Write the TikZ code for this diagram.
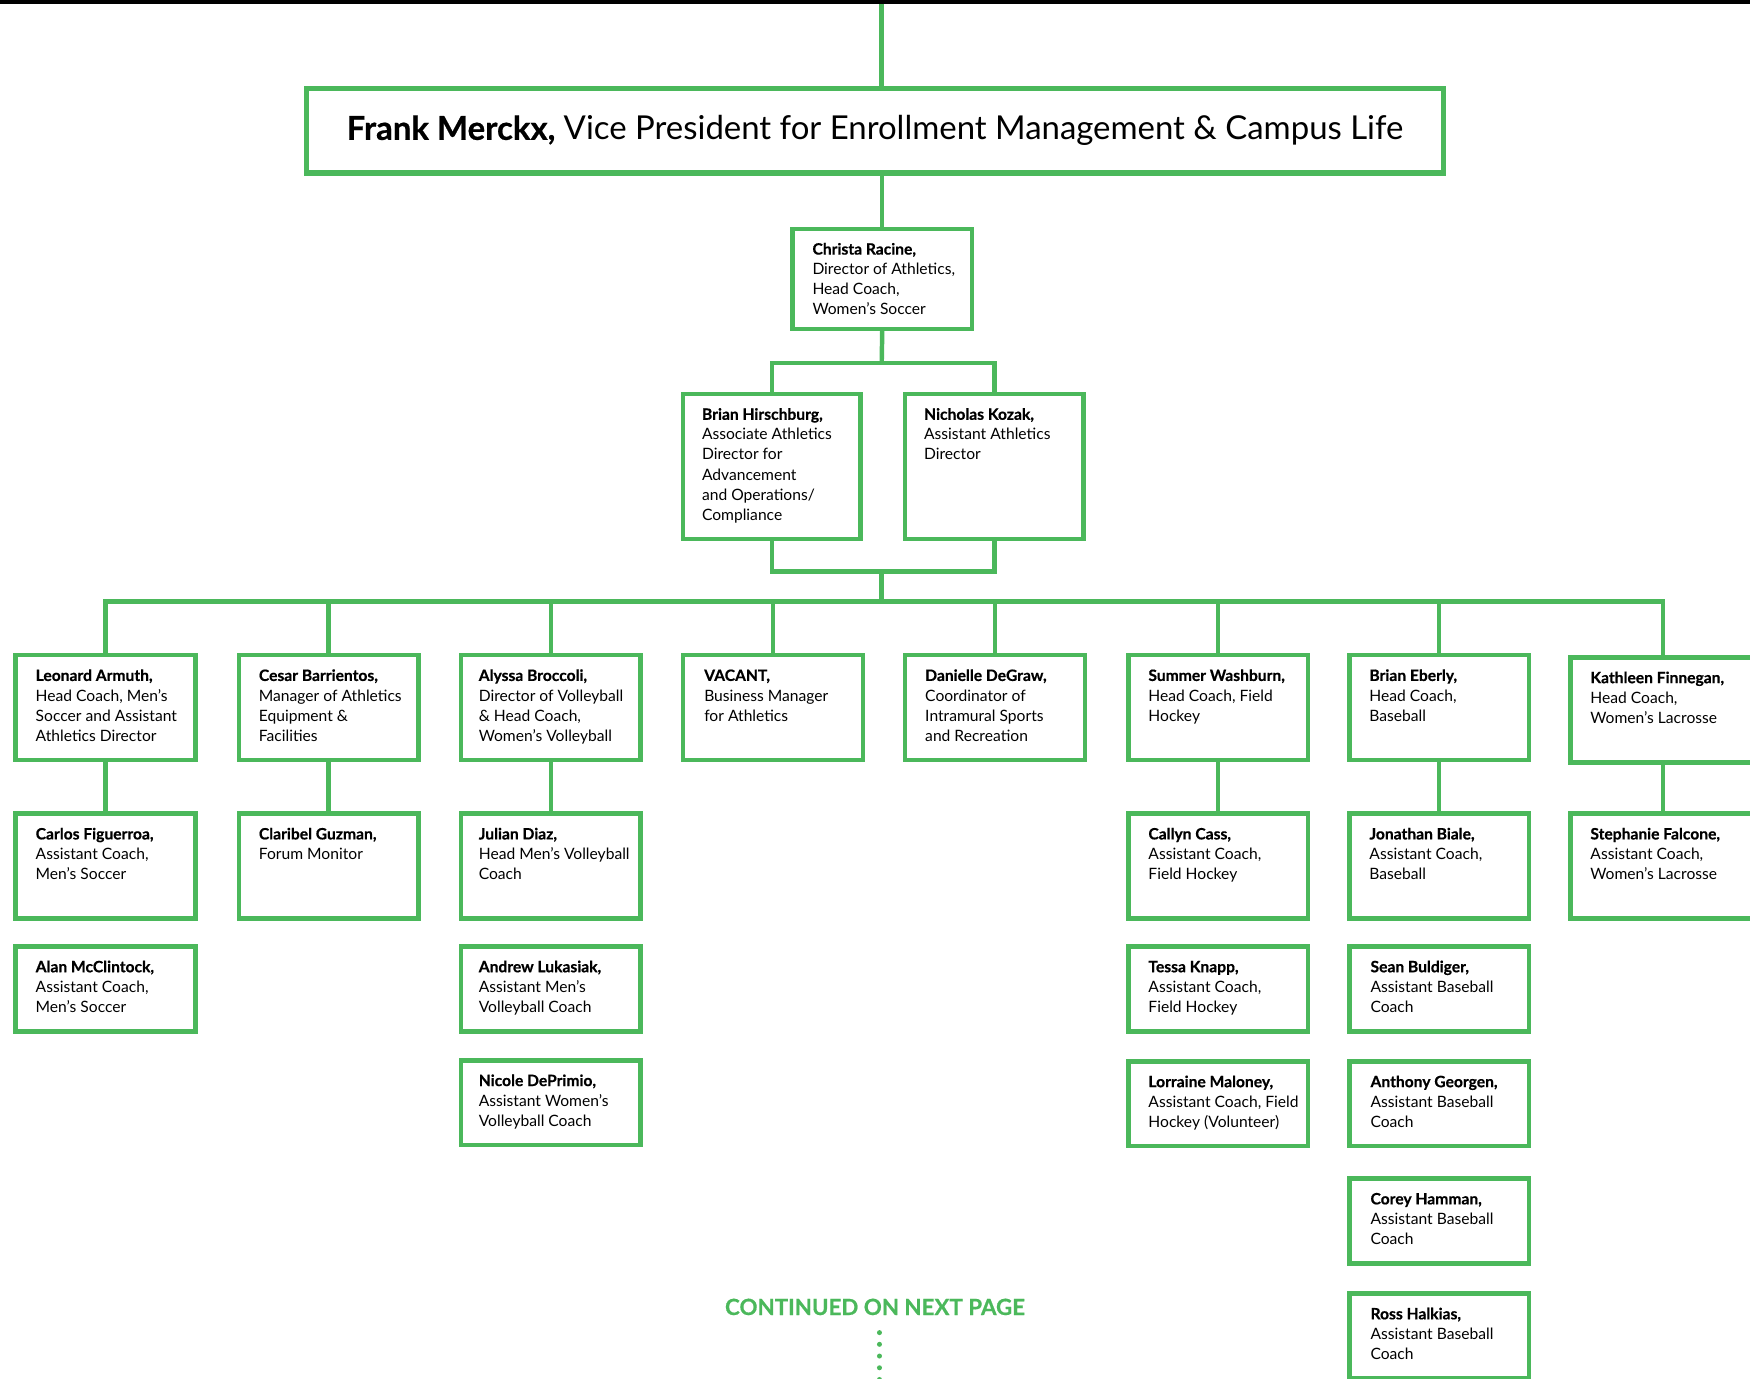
\documentclass[tikz,border=0pt]{standalone}
\usepackage{fontspec}
\setmainfont{Lato}[BoldFeatures={FakeBold=0.6}]
\definecolor{grn}{HTML}{4BB85B}
\newcommand\ctext[5]{\parbox[c][#2pt][t]{#1pt}{\fontsize{14}{18}\selectfont\vspace*{10.5pt}\leftskip=#3pt\rightskip=0pt plus 1fil\parindent=0pt\strut\textbf{#4}\\#5}}
\tikzset{
  card/.style={draw=grn, line width=4pt, anchor=north west, inner sep=0pt, outer sep=0pt},
  conn/.style={draw=grn, line width=4pt},
  dotline/.style={draw=grn, line width=4.5pt, line cap=round, dash pattern=on 0pt off 10.5pt}
}
\begin{document}
\begin{tikzpicture}[x=1pt,y=-1pt]
\useasboundingbox (0,0) rectangle (1568,1235);
\fill[black] (0,0) rectangle (1568,4);
% top
\node[draw=grn, line width=4.5pt, inner sep=0pt, outer sep=0pt, minimum width=1018pt, minimum height=76pt, anchor=north west] (vp) at (275,79)
 {\raisebox{-3.5pt}{\fontsize{29.5}{32}\selectfont\textbf{Frank Merckx,} Vice President for Enrollment Management \& Campus Life}};
\node[card] (chr) at (710,205) {\ctext{161}{90}{18}{Christa Racine,}{Director of Athletics,\\Head Coach,\\Women’s Soccer}};
\node[card] (bh) at (612,353) {\ctext{159}{130}{17}{Brian Hirschburg,}{Associate Athletics\\Director for\\Advancement\\and Operations/\\Compliance}};
\node[card] (nk) at (811,353) {\ctext{160}{130}{17}{Nicholas Kozak,}{Assistant Athletics\\Director}};
% row 1
\node[card] (leo) at (14,587) {\ctext{161}{94}{18}{Leonard Armuth,}{Head Coach, Men’s\\Soccer and Assistant\\Athletics Director}};
\node[card] (ces) at (214,587) {\ctext{161}{94}{18}{Cesar Barrientos,}{Manager of Athletics\\Equipment \&\\Facilities}};
\node[card] (aly) at (413,587) {\ctext{161}{94}{16}{Alyssa Broccoli,}{Director of Volleyball\\\& Head Coach,\\Women’s Volleyball}};
\node[card] (vac) at (612,587) {\ctext{161}{94}{19}{VACANT,}{Business Manager\\for Athletics}};
\node[card] (dan) at (811,587) {\ctext{161}{94}{18}{Danielle DeGraw,}{Coordinator of\\Intramural Sports\\and Recreation}};
\node[card] (sum) at (1011,587) {\ctext{161}{94}{18}{Summer Washburn,}{Head Coach, Field\\Hockey}};
\node[card] (bre) at (1209,587) {\ctext{161}{94}{18}{Brian Eberly,}{Head Coach,\\Baseball}};
\node[card] (kat) at (1407,589) {\ctext{166}{94}{18}{Kathleen Finnegan,}{Head Coach,\\Women’s Lacrosse}};
% row 2
\node[card] (car) at (14,729) {\ctext{161}{94}{18}{Carlos Figuerroa,}{Assistant Coach,\\Men’s Soccer}};
\node[card] (cla) at (214,729) {\ctext{161}{94}{18}{Claribel Guzman,}{Forum Monitor}};
\node[card] (jul) at (413,729) {\ctext{161}{94}{16}{Julian Diaz,}{Head Men’s Volleyball\\Coach}};
\node[card] (cal) at (1011,729) {\ctext{161}{94}{18}{Callyn Cass,}{Assistant Coach,\\Field Hockey}};
\node[card] (jon) at (1209,729) {\ctext{161}{94}{18}{Jonathan Biale,}{Assistant Coach,\\Baseball}};
\node[card] (ste) at (1407,729) {\ctext{166}{94}{18}{Stephanie Falcone,}{Assistant Coach,\\Women’s Lacrosse}};
% row 3
\node[card] (ala) at (14,848) {\ctext{161}{76}{18}{Alan McClintock,}{Assistant Coach,\\Men’s Soccer}};
\node[card] (and) at (413,848) {\ctext{161}{76}{16}{Andrew Lukasiak,}{Assistant Men’s\\Volleyball Coach}};
\node[card] (tes) at (1011,848) {\ctext{161}{76}{18}{Tessa Knapp,}{Assistant Coach,\\Field Hockey}};
\node[card] (sea) at (1209,848) {\ctext{161}{76}{19}{Sean Buldiger,}{Assistant Baseball\\Coach}};
% row 4
\node[card] (nic) at (413,950) {\ctext{161}{76}{16}{Nicole DePrimio,}{Assistant Women’s\\Volleyball Coach}};
\node[card] (lor) at (1011,951) {\ctext{161}{76}{18}{Lorraine Maloney,}{Assistant Coach, Field\\Hockey (Volunteer)}};
\node[card] (ant) at (1209,951) {\ctext{161}{76}{19}{Anthony Georgen,}{Assistant Baseball\\Coach}};
% row 5, 6
\node[card] (cor) at (1209,1056) {\ctext{161}{76}{19}{Corey Hamman,}{Assistant Baseball\\Coach}};
\node[card] (ros) at (1209,1159) {\ctext{161}{76}{19}{Ross Halkias,}{Assistant Baseball\\Coach}};
% continued
\node[text=grn, inner sep=0pt] (cont) at (784,1171) {\fontsize{20}{22}\selectfont\bfseries\addfontfeatures{FakeBold=1.5}CONTINUED ON NEXT PAGE};
\coordinate (d1) at (788,1194);
\coordinate (d2) at (788,1242);
\draw[dotline] (d1) -- (d2);
% connectors
\coordinate (topc) at (790,4);
\draw[conn] (topc) -- (topc |- vp.north);
\draw[conn] (chr.north |- vp.south) -- (chr.north);
\coordinate (s1) at (790,325);
\draw[conn] (chr.south) -- (s1);
\draw[conn] (bh.north) |- (s1) -| (nk.north);
\coordinate (s2) at (790,512);
\draw[conn] (bh.south) |- (s2) -| (nk.south);
\coordinate (bus) at (790,539);
\draw[conn] (s2) -- (bus);
\draw[conn] (leo.north) |- (bus) -| (kat.north);
\foreach \n in {ces,aly,vac,dan,sum,bre} \draw[conn] (\n.north) -- (\n.north |- bus);
\draw[conn] (leo.south) -- (car.north);
\draw[conn] (ces.south) -- (cla.north);
\draw[conn] (aly.south) -- (jul.north);
\draw[conn] (sum.south) -- (cal.north);
\draw[conn] (bre.south) -- (jon.north);
\draw[conn] (kat.south) -- (ste.north);
\end{tikzpicture}
\end{document}
